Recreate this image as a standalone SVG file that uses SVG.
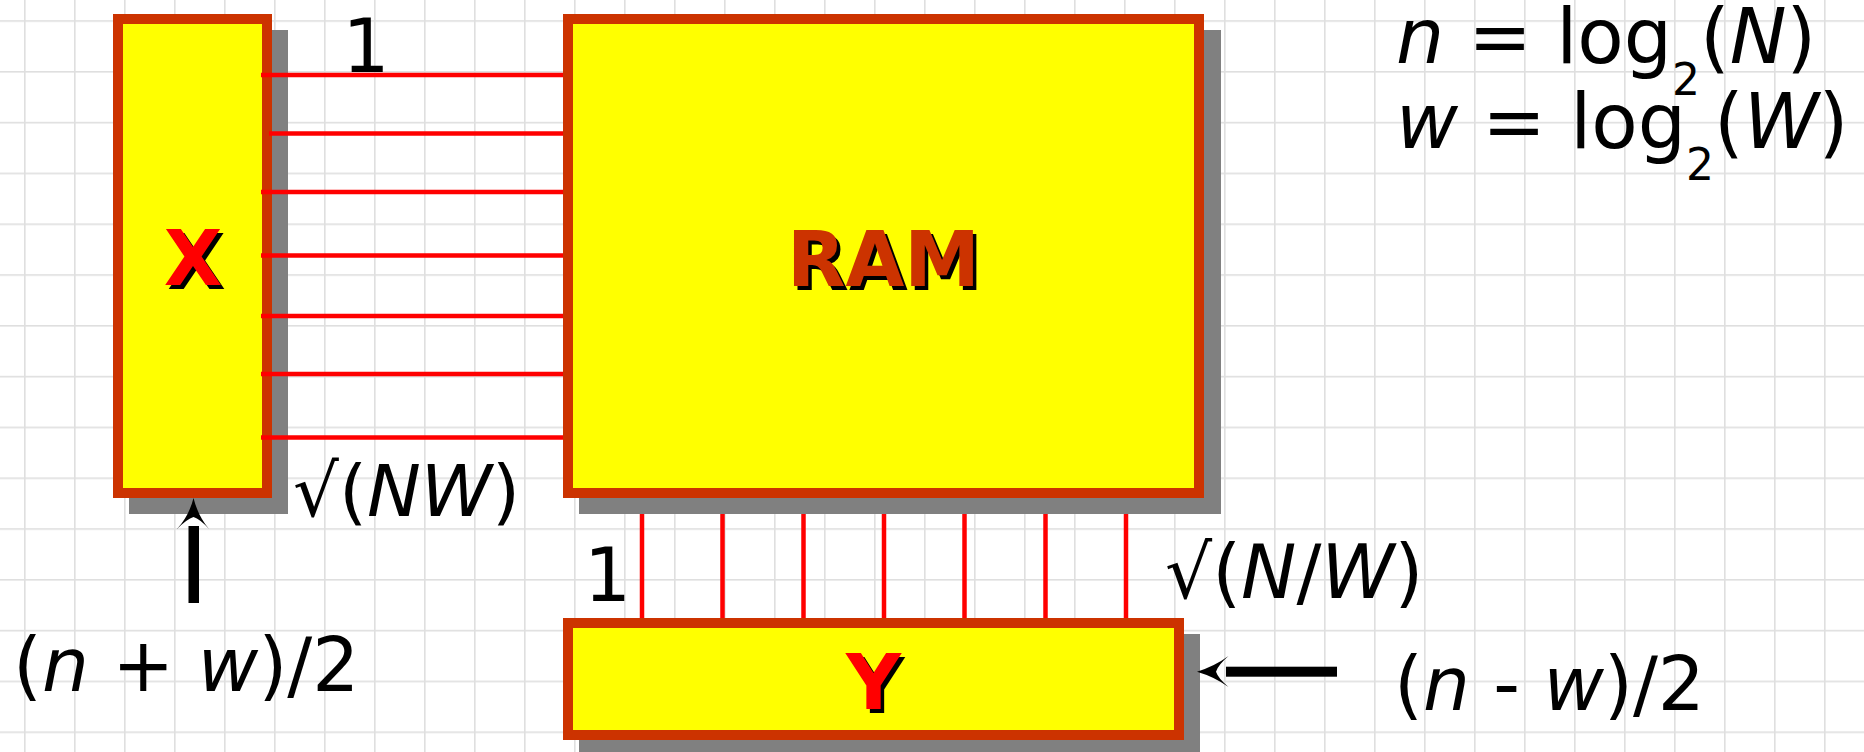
<svg xmlns="http://www.w3.org/2000/svg" width="1864" height="752" viewBox="0 0 1864 752">
<style>
.box{fill:#ffff00;stroke:#cc3300;stroke-width:10}
.shadow{fill:#808080}
.wire{stroke:#ff0000;stroke-width:4.5;fill:none}
.lbl{font-family:"DejaVu Sans","Liberation Sans",sans-serif;font-size:74px;fill:#000000}
.fml{font-size:76px}
.it{font-style:italic}
.sub{font-size:44px}
.nl{font-family:"DejaVu Sans","Liberation Sans",sans-serif;font-weight:bold;font-size:76px;text-anchor:middle}
.arrow{fill:#000000}
</style>
<defs>
<pattern id="grid" patternUnits="userSpaceOnUse" x="24" y="71" width="50" height="50.8">
<rect x="0" y="0" width="1.6" height="50.8" fill="#c4c4c4"/>
<rect x="0" y="0" width="50" height="1.6" fill="#c4c4c4"/>
</pattern>
</defs>
<rect x="0" y="0" width="1864" height="752" fill="#ffffff"/>
<rect x="0" y="0" width="1864" height="752" fill="url(#grid)" opacity="0.55"/>

<g id="X">
<rect class="shadow" x="129" y="30" width="159" height="484"/>
<rect class="box" x="118" y="19" width="149" height="474"/>
<text class="nl" x="196.5" y="288.5" fill="#000000">X</text>
<text class="nl" x="193" y="285" fill="#ff0000">X</text>
</g>

<g id="RAM">
<rect class="shadow" x="579" y="30" width="642" height="484"/>
<rect class="box" x="568" y="19" width="631" height="474"/>
<text class="nl" x="887" y="289.5" fill="#000000">RAM</text>
<text class="nl" x="883.5" y="286" fill="#cc3300">RAM</text>
</g>

<g id="Y">
<rect class="shadow" x="579" y="634" width="621" height="122"/>
<rect class="box" x="568" y="623" width="611" height="112"/>
<text class="nl" x="877" y="712.5" fill="#000000">Y</text>
<text class="nl" x="873.5" y="709" fill="#ff0000">Y</text>
</g>

<g id="connectors">
<line class="wire" x1="261" y1="75" x2="563" y2="75"/>
<line class="wire" x1="269" y1="133.5" x2="563" y2="133.5"/>
<line class="wire" x1="261" y1="192" x2="563" y2="192"/>
<line class="wire" x1="261" y1="255.5" x2="563" y2="255.5"/>
<line class="wire" x1="261" y1="316" x2="563" y2="316"/>
<line class="wire" x1="261" y1="374" x2="563" y2="374"/>
<line class="wire" x1="261" y1="437.5" x2="563" y2="437.5"/>

<line class="wire" x1="642" y1="514" x2="642" y2="618"/>
<line class="wire" x1="722.5" y1="514" x2="722.5" y2="618"/>
<line class="wire" x1="803.5" y1="514" x2="803.5" y2="618"/>
<line class="wire" x1="884" y1="514" x2="884" y2="618"/>
<line class="wire" x1="964.5" y1="514" x2="964.5" y2="618"/>
<line class="wire" x1="1045.5" y1="514" x2="1045.5" y2="618"/>
<line class="wire" x1="1126" y1="514" x2="1126" y2="618"/>

<rect class="arrow" x="188.5" y="526" width="10.5" height="77"/>
<path class="arrow" d="M193.5,498 Q198,516 209,529 Q200,519 193.5,517 Q187,519 177,529 Q189,516 193.5,498 Z"/>

<rect class="arrow" x="1226" y="666.7" width="111" height="10"/>
<path class="arrow" d="M1197,671.7 Q1215,666 1228.5,656 Q1218,665 1216,671.7 Q1218,678 1228.5,687 Q1215,677 1197,671.7 Z"/>
</g>

<g id="labels">
<text class="lbl" x="366" y="72" text-anchor="middle">1</text>
<text class="lbl" x="607.5" y="601" text-anchor="middle">1</text>
<text class="lbl" x="293" y="516" style="font-size:72px">√(<tspan class="it">NW</tspan>)</text>
<text class="lbl" x="1165" y="598">√(<tspan class="it">N</tspan>/<tspan class="it">W</tspan>)</text>
<text class="lbl" x="13" y="691">(<tspan class="it">n</tspan> + <tspan class="it">w</tspan>)/2</text>
<text class="lbl" x="1394" y="710">(<tspan class="it">n</tspan> - <tspan class="it">w</tspan>)/2</text>
<text class="lbl fml" x="1396" y="63"><tspan class="it">n</tspan> = log<tspan class="sub" dy="32">2</tspan><tspan dy="-32">(</tspan><tspan class="it">N</tspan>)</text>
<text class="lbl fml" x="1396" y="148"><tspan class="it">w</tspan> = log<tspan class="sub" dy="32">2</tspan><tspan dy="-32">(</tspan><tspan class="it">W</tspan>)</text>
</g>
</svg>
